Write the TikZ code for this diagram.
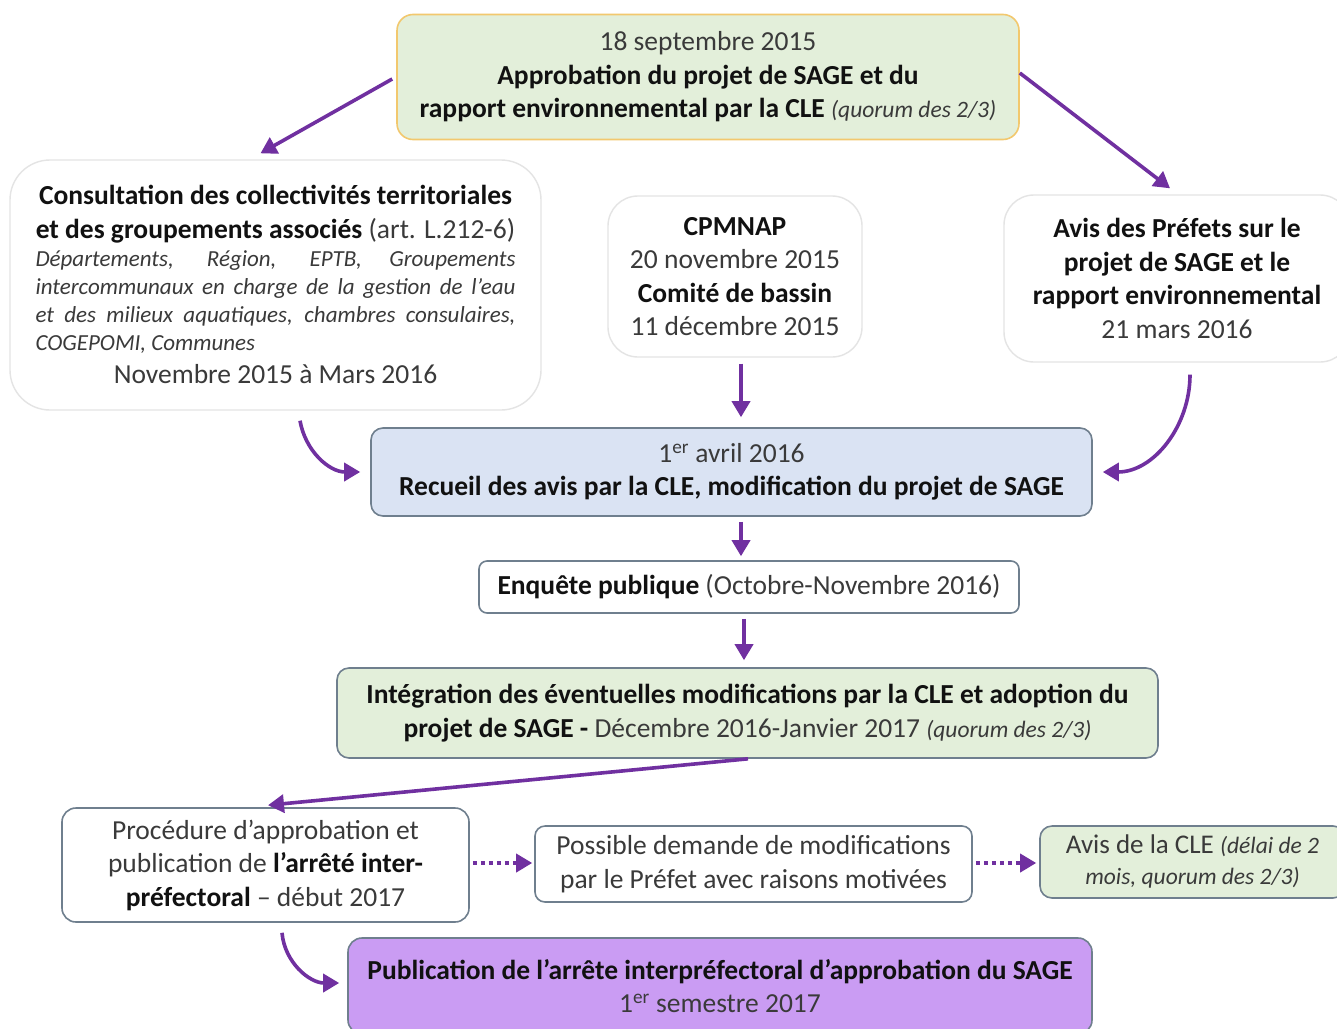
\documentclass[tikz,border=0pt]{standalone}
\usepackage{fontspec}
\setmainfont{Carlito}
\usetikzlibrary{arrows.meta}
\definecolor{txt}{HTML}{3A3A3A}
\definecolor{ink}{HTML}{111111}
\definecolor{arrowpurple}{HTML}{7030A0}
\definecolor{greenfill}{HTML}{E3EFDA}
\definecolor{goldline}{HTML}{F2C86E}
\definecolor{bluefill}{HTML}{DAE3F3}
\definecolor{boxline}{HTML}{6F7F8E}
\definecolor{softline}{HTML}{E4E4E4}
\definecolor{lilac}{HTML}{CA9CF3}
\newcommand\bld[1]{{\bfseries\color{ink}#1}}
\newcommand\itsm[1]{{\itshape\fontsize{23.5}{28}\selectfont #1}}
\tikzset{
  base/.style={rectangle, align=center, inner sep=0pt, text=txt,
    font=\fontsize{27.5}{33.5}\selectfont},
  softbox/.style={base, draw=softline, fill=white, line width=1.4pt},
  framebox/.style={base, draw=boxline, line width=1.6pt},
  arr/.style={draw=arrowpurple, line width=3.6pt,
    -{Triangle[length=16pt,width=18pt]}},
  dotarr/.style={arr, dash pattern=on 4pt off 4pt}
}
\begin{document}
\begin{tikzpicture}[x=1pt,y=1pt]
\useasboundingbox (0,0) rectangle (1337,-1028);
\clip (0,0) rectangle (1337,-1028);
\fill[white] (0,0) rectangle (1337,-1028);

% nodes
\node[base, draw=goldline, fill=greenfill, line width=1.6pt, rounded corners=16pt,
  minimum width=622pt, minimum height=125pt] (top) at (708,-77)
  {18 septembre 2015\\ \bld{Approbation du projet de SAGE et du}\\
   \bld{rapport environnemental par la CLE} \itsm{(quorum des 2/3)}};

\node[softbox, rounded corners=40pt, minimum width=531pt, minimum height=250pt,
  text width=480pt, align=justify] (cons) at (275.5,-285)
  {\par\centerline{\bld{Consultation des collectivités territoriales}}%
   \centerline{\bld{et des groupements associés} (art. L.212-6)}%
   {\itshape\fontsize{23}{28}\selectfont\noindent Départements, Région, EPTB, Groupements\linebreak
    intercommunaux en charge de la gestion de l’eau\linebreak
    et des milieux aquatiques, chambres consulaires,\linebreak
    COGEPOMI, Communes\par}%
   \centerline{Novembre 2015 à Mars 2016}\vspace{15pt}};

\node[softbox, rounded corners=30pt, minimum width=254pt, minimum height=161pt]
  (cpm) at (735,-276.5)
  {\bld{CPMNAP}\\ 20 novembre 2015\\ \bld{Comité de bassin}\\ 11 décembre 2015};

\node[softbox, rounded corners=30pt, minimum width=346pt, minimum height=167pt]
  (pref) at (1177,-278.5)
  {\bld{Avis des Préfets sur le}\\ \bld{projet de SAGE et le}\\
   \bld{rapport environnemental}\\ 21 mars 2016};

\node[framebox, fill=bluefill, rounded corners=12pt, minimum width=721pt,
  minimum height=88pt] (rec) at (731.5,-472)
  {1\textsuperscript{er} avril 2016\\
   \bld{Recueil des avis par la CLE, modification du projet de SAGE}};

\node[framebox, fill=white, rounded corners=8pt, minimum width=540pt,
  minimum height=52pt] (enq) at (749,-587)
  {\bld{Enquête publique} (Octobre-Novembre 2016)};

\node[framebox, fill=greenfill, rounded corners=12pt, minimum width=821pt,
  minimum height=90pt] (integ) at (747.5,-713)
  {\bld{Intégration des éventuelles modifications par la CLE et adoption du}\\
   \bld{projet de SAGE -} Décembre 2016-Janvier 2017 \itsm{(quorum des 2/3)}};

\node[framebox, fill=white, rounded corners=14pt, minimum width=407pt,
  minimum height=114pt] (proc) at (265.5,-865)
  {Procédure d’approbation et\\ publication de \bld{l’arrêté inter-}\\
   \bld{préfectoral} – début 2017};

\node[framebox, fill=white, rounded corners=10pt, minimum width=437pt,
  minimum height=76pt] (poss) at (753.5,-864)
  {Possible demande de modifications\\ par le Préfet avec raisons motivées};

\node[framebox, fill=greenfill, rounded corners=12pt, minimum width=305pt,
  minimum height=72pt, font=\fontsize{27}{31}\selectfont] (avis) at (1192.5,-862)
  {Avis de la CLE \itsm{(délai de 2}\\ \itsm{mois, quorum des 2/3)}};

\node[framebox, fill=lilac, rounded corners=14pt, minimum width=744pt,
  minimum height=96pt] (pub) at (720,-986)
  {\bld{Publication de l’arrête interpréfectoral d’approbation du SAGE}\\
   1\textsuperscript{er} semestre 2017};

% connectors
\draw[arr] ([xshift=-4pt,yshift=-2pt]top.west) -- ([xshift=-15pt,yshift=6pt]cons.north);
\draw[arr] ([yshift=4pt]top.east) -- ([xshift=-7pt,yshift=6pt]pref.north);
\draw[arr] ([xshift=6pt,yshift=-6pt]cpm.south) -- ([xshift=9.5pt,yshift=10pt]rec.north);
\draw[arr] ([xshift=24.5pt,yshift=-10pt]cons.south) to[out=-80,in=180]
  ([xshift=-10pt]rec.west);
\draw[arr] ([xshift=13pt,yshift=-12pt]pref.south) to[out=-90,in=0]
  ([xshift=10pt]rec.east);
\draw[arr] ([xshift=9.5pt,yshift=-5pt]rec.south) -- ([xshift=-8pt,yshift=4pt]enq.north);
\draw[arr] ([xshift=-5pt,yshift=-5pt]enq.south) -- ([xshift=-3.5pt,yshift=7pt]integ.north);
\draw[arr] ([xshift=0.5pt]integ.south) -- ([xshift=2.5pt,yshift=2pt]proc.north);
\draw[dotarr] ([xshift=3pt,yshift=2pt]proc.east) -- ([xshift=-2pt,yshift=1pt]poss.west);
\draw[dotarr] ([xshift=3pt,yshift=1pt]poss.east) -- ([xshift=-3pt,yshift=-1pt]avis.west);
\draw[arr] ([xshift=16.5pt,yshift=-10pt]proc.south) to[out=-85,in=180]
  ([xshift=-8pt,yshift=3pt]pub.west);
\end{tikzpicture}
\end{document}
